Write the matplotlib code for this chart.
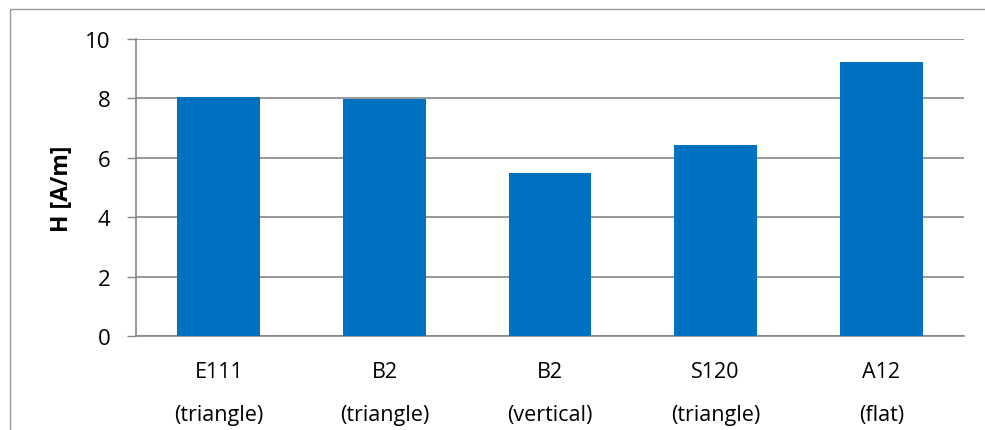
import matplotlib
matplotlib.use("Agg")
import matplotlib.pyplot as plt
from matplotlib.patches import Rectangle

categories = ["E111\n(triangle)", "B2\n(triangle)", "B2\n(vertical)", "S120\n(triangle)", "A12\n(flat)"]
values = [8.05, 7.98, 5.49, 6.43, 9.22]
yticks = [0, 2, 4, 6, 8, 10]

plt.rcParams['font.family'] = ['Open Sans', 'DejaVu Sans']

fig = plt.figure(figsize=(9.85, 4.31), dpi=100)
fig.patches.append(Rectangle((10/985, -0.1), 2.0, (421/431) + 0.1, transform=fig.transFigure,
                             fill=False, edgecolor="#9a9a9a", linewidth=1.0))
ax = fig.add_axes([136/985, 1 - 337/431, (964 - 136)/985, (337 - 40)/431])

x = range(len(categories))
ax.bar(x, values, width=0.5, color="#0070C0", zorder=3)
ax.set_xlim(-0.5, len(categories) - 0.5)
ax.set_ylim(0, 10)
ax.set_yticks(yticks)
ax.set_yticklabels([str(v) for v in yticks], fontsize=16)
ax.set_xticks(list(x))
ax.set_xticklabels(categories, fontsize=15.5, linespacing=2.4)
ax.tick_params(axis='x', length=0, pad=18)
ax.tick_params(axis='y', length=6.5, color="#868686", width=1, pad=12)
ax.grid(axis='y', color="#868686", linewidth=1.2, zorder=0)
for s in ["top", "right"]:
    ax.spines[s].set_visible(False)
for s in ["left", "bottom"]:
    ax.spines[s].set_color("#868686")
    ax.spines[s].set_linewidth(1.2)
ax.set_ylabel("H [A/m]", fontsize=16.5, fontweight='bold', labelpad=8)

fig.savefig("out.png", dpi=100)
